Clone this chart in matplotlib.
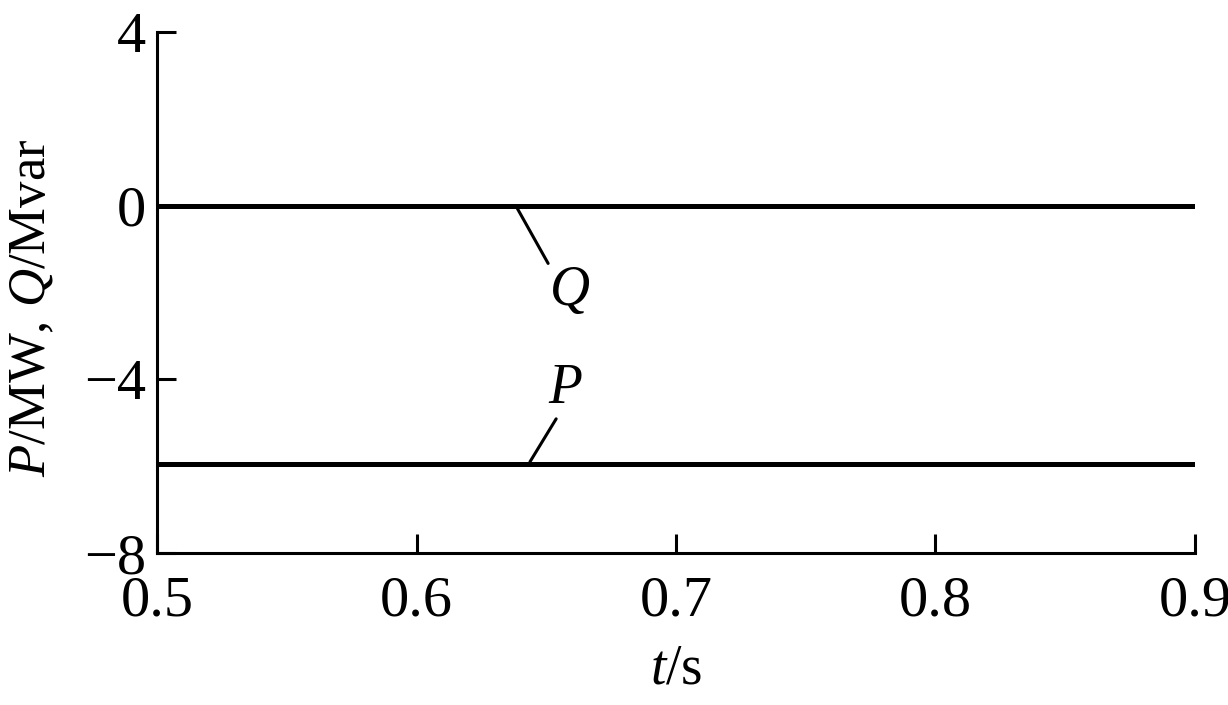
import matplotlib
matplotlib.use("Agg")
import matplotlib.pyplot as plt
import numpy as np

# data
t = np.array([0.5, 0.9])
p_mw = np.array([-5.95, -5.95])
q_mvar = np.array([0.0, 0.0])
xticks = [0.5, 0.6, 0.7, 0.8, 0.9]
yticks = [-8, -4, 0, 4]

plt.rcParams["font.family"] = "Liberation Serif"
plt.rcParams["mathtext.fontset"] = "custom"
plt.rcParams["mathtext.rm"] = "Liberation Serif"
plt.rcParams["mathtext.it"] = "Liberation Serif:italic"

fig = plt.figure(figsize=(12.28, 7.05), dpi=100)
ax = fig.add_axes([0.128, 0.2156, 0.845, 0.739])

ax.plot(t, q_mvar, color="black", lw=3.6, solid_capstyle="butt")
ax.plot(t, p_mw, color="black", lw=3.6, solid_capstyle="butt")

# leader lines + labels
ax.annotate("", xy=(0.6387, q_mvar[0] - 0.05), xytext=(0.6507, -1.33),
            arrowprops=dict(arrowstyle="-", color="black", lw=2.2,
                            shrinkA=0, shrinkB=0))
ax.text(0.659, -1.97, "$Q$", fontsize=40, ha="center", va="center")
ax.annotate("", xy=(0.6437, p_mw[0] + 0.05), xytext=(0.6538, -4.91),
            arrowprops=dict(arrowstyle="-", color="black", lw=2.2,
                            shrinkA=0, shrinkB=0))
ax.text(0.6575, -4.22, "$P$", fontsize=40, ha="center", va="center")

ax.set_xlim(0.5, 0.9)
ax.set_ylim(-8, 4)
ax.set_xticks(xticks)
ax.set_yticks(yticks)
ax.set_xticklabels([f"{v:.1f}" for v in xticks])
ax.set_yticklabels([f"{v}".replace("-", "\u2212") for v in yticks])

for s in ["top", "right"]:
    ax.spines[s].set_visible(False)
for s in ["left", "bottom"]:
    ax.spines[s].set_linewidth(2.2)
ax.tick_params(direction="in", length=14, width=2.2, labelsize=42)
ax.tick_params(axis="x", pad=16)
ax.tick_params(axis="y", pad=8)

ax.set_xlabel("$t$/s", fontsize=40, labelpad=12)
ax.set_ylabel("$P$/MW, $Q$/Mvar", fontsize=38)
ax.yaxis.set_label_coords(-0.097, 0.47)

fig.savefig("out.png", dpi=100)
